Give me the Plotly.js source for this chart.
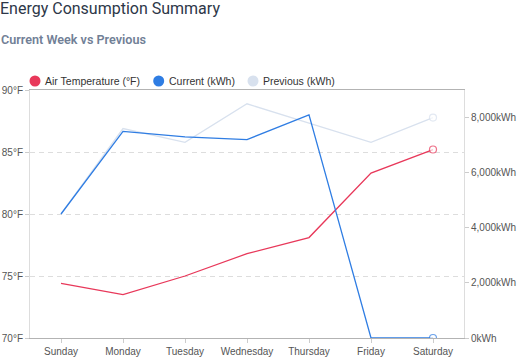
<!DOCTYPE html>
<html>
<head>
<meta charset="utf-8">
<script src="https://cdn.plot.ly/plotly-3.0.1.min.js"></script>
<style>html,body{margin:0;padding:0;background:#fff;}#chart{width:517px;height:357px;}</style>
</head>
<body>
<div id="chart"></div>
<script>
// ---- data ----
const days = ["Sunday", "Monday", "Tuesday", "Wednesday", "Thursday", "Friday", "Saturday"];
const airTemperature = [74.4, 73.5, 75.0, 76.8, 78.1, 83.3, 85.2];
const currentKwh = [4500, 7500, 7300, 7200, 8100, 0, 0];
const previousKwh = [4500, 7600, 7100, 8500, 7800, 7100, 8000];
const seriesNames = ["Air Temperature (°F)", "Current (kWh)", "Previous (kWh)"];
const seriesColors = ["#e8385a", "#2f7de3", "#d8e1ee"];
const tempTicks = [70, 75, 80, 85, 90];
const tempTickLabels = ["70°F", "75°F", "80°F", "85°F", "90°F"];
const kwhTicks = [0, 2000, 4000, 6000, 8000];
const kwhTickLabels = ["0kWh", "2,000kWh", "4,000kWh", "6,000kWh", "8,000kWh"];
const titleText = "Energy Consumption Summary";
const subtitleText = "Current Week vs Previous";

// ---- layout geometry (pixels) ----
const W = 517, H = 357;
const M = {l: 30, r: 53, t: 90, b: 19};
const pw = W - M.l - M.r, ph = H - M.t - M.b;
const px2x = p => (p - M.l) / pw;
const px2y = p => (H - M.b - p) / ph;

const last = days.length - 1;
const mSize = days.map((d, i) => i === last ? 7 : 0);
const mLine = days.map((d, i) => i === last ? 1.2 : 0);

function lineTrace(y, idx, axis) {
  return {
    type: "scatter", mode: "lines+markers", x: days, y: y, yaxis: axis,
    name: seriesNames[idx], showlegend: false,
    line: {color: seriesColors[idx], width: 1.3},
    marker: {symbol: "circle", size: mSize, color: "#ffffff",
             line: {color: seriesColors[idx], width: mLine}}
  };
}

const traces = [
  lineTrace(airTemperature, 0, "y"),
  lineTrace(previousKwh, 2, "y2"),
  lineTrace(currentKwh, 1, "y2")
];

// custom legend (circle + text)
const legendCenters = [35, 158.7, 253];
const legendY = 81;
const shapes = legendCenters.map((cx, i) => ({
  type: "circle", xref: "paper", yref: "paper",
  xsizemode: "pixel", ysizemode: "pixel",
  xanchor: px2x(cx), yanchor: px2y(legendY),
  x0: -5.5, x1: 5.5, y0: -5.5, y1: 5.5,
  fillcolor: seriesColors[i], line: {width: 0}
}));
const annotations = legendCenters.map((cx, i) => ({
  xref: "paper", yref: "paper", x: px2x(cx + 8), y: px2y(legendY),
  xanchor: "left", yanchor: "middle", showarrow: false,
  text: seriesNames[i],
  font: {family: "Liberation Sans, Arial, sans-serif", size: 10.5, color: "#333333"}
}));
annotations.push({
  xref: "paper", yref: "paper", x: px2x(-1), y: px2y(39.5),
  xanchor: "left", yanchor: "middle", showarrow: false,
  text: subtitleText,
  font: {family: "Roboto, Inter, sans-serif", size: 12.6, color: "#718096", weight: 600}
});

const tickFont = {family: "Liberation Sans, Arial, sans-serif", size: 10, color: "#555555"};

const layout = {
  width: W, height: H,
  margin: M,
  paper_bgcolor: "#ffffff", plot_bgcolor: "#ffffff",
  showlegend: false,
  title: {
    text: titleText, xref: "container", yref: "container",
    x: 0, xanchor: "left", y: 1 - 3 / H, yanchor: "top", pad: {t: 0, l: 0},
    font: {family: "Roboto, Inter, sans-serif", size: 16, color: "#2d3748"}
  },
  xaxis: {
    type: "category", range: [-0.5, days.length - 0.5],
    showgrid: false, zeroline: false,
    showline: true, linecolor: "#b3b3b3", linewidth: 1, mirror: true,
    ticks: "outside", ticklen: 4, tickcolor: "#cccccc",
    tickfont: tickFont, fixedrange: true
  },
  yaxis: {
    range: [70, 90], tickmode: "array", tickvals: tempTicks, ticktext: tempTickLabels,
    showgrid: true, gridcolor: "#dddddd", griddash: "5px,4px", gridwidth: 1,
    zeroline: false,
    showline: true, linecolor: "#dddddd", linewidth: 1, mirror: true,
    ticks: "outside", ticklen: 4, tickcolor: "#cccccc",
    tickfont: tickFont, fixedrange: true
  },
  yaxis2: {
    overlaying: "y", side: "right", range: [0, 9000],
    tickmode: "array", tickvals: kwhTicks, ticktext: kwhTickLabels,
    showgrid: false, zeroline: false, showline: false,
    ticks: "outside", ticklen: 4, tickcolor: "#cccccc",
    tickfont: tickFont, fixedrange: true
  },
  shapes: shapes,
  annotations: annotations
};

Plotly.newPlot("chart", traces, layout, {displayModeBar: false, staticPlot: true});
</script>
</body>
</html>
